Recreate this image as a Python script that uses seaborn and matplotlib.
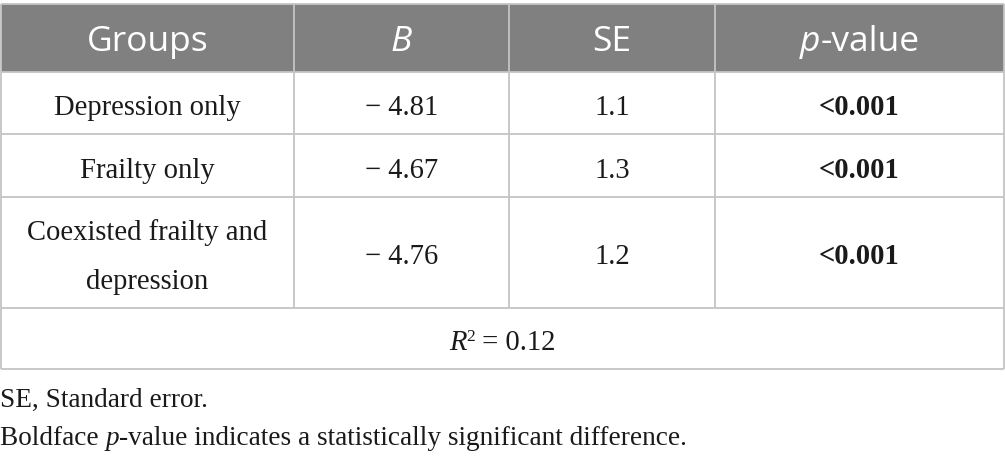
import matplotlib
matplotlib.use("Agg")
import matplotlib.pyplot as plt
import seaborn as sns
from matplotlib.patches import Rectangle

# ---------------- data ----------------
headers = ["Groups", "B", "SE", "p-value"]
groups = ["Depression only", "Frailty only", "Coexisted frailty and\ndepression"]
b_values = [-4.81, -4.67, -4.76]
se_values = [1.1, 1.3, 1.2]
p_values = ["<0.001", "<0.001", "<0.001"]
r_squared = 0.12
footnotes = ["SE, Standard error.",
             "Boldface p-value indicates a statistically significant difference."]

# ---------------- style ----------------
sns.set_theme(style="white")
plt.rcParams["font.family"] = ["Liberation Serif", "DejaVu Serif"]

W, H = 1005, 459
fig = plt.figure(figsize=(W / 100, H / 100), dpi=100)
ax = fig.add_axes([0, 0, 1, 1])
ax.set_xlim(0, W)
ax.set_ylim(H, 0)
ax.axis("off")

HEAD_BG = "#808080"
GRID = "#c4c4c4"
TXT = "#1a1a1a"
SANS = "Open Sans"
SERIF = "Liberation Serif"
HEAD_FS = 25.5
BODY_FS = 20.6
FOOT_FS = 19.6

col_edges = [0.8, 294, 509, 715, 1004]
row_edges = [4, 72, 134, 197, 308, 369]

renderer = fig.canvas.get_renderer()


def draw_runs(x, y, runs, ha="center"):
    objs = []
    widths = []
    for txt, kw in runs:
        kw = dict(kw)
        dy = kw.pop("dy", 0)
        t = ax.text(0, y + dy, txt, va="baseline", ha="left", **kw)
        bb = t.get_window_extent(renderer)
        objs.append(t)
        widths.append(bb.width)
    total = sum(widths)
    start = x - total / 2 if ha == "center" else x
    for t, w in zip(objs, widths):
        t.set_x(start)
        start += w


# header band
ax.add_patch(Rectangle((col_edges[0], row_edges[0]), col_edges[-1] - col_edges[0],
                       row_edges[1] - row_edges[0], facecolor=HEAD_BG, edgecolor="none", zorder=0))

# grid lines
for yv in row_edges:
    ax.plot([col_edges[0], col_edges[-1]], [yv, yv], color=GRID, lw=1.3, zorder=3,
            solid_capstyle="butt")
for i, xv in enumerate(col_edges):
    y1 = row_edges[-1] if i in (0, len(col_edges) - 1) else row_edges[-2]
    ax.plot([xv, xv], [row_edges[0], y1], color=GRID, lw=1.3, zorder=3,
            solid_capstyle="butt")

centers = [(col_edges[i] + col_edges[i + 1]) / 2 for i in range(4)]

# header texts
hb = 51
hkw = dict(family=SANS, fontsize=HEAD_FS, color="white")
draw_runs(centers[0], hb, [(headers[0], hkw)])
draw_runs(centers[1], hb, [(headers[1], dict(hkw, style="italic"))])
draw_runs(centers[2], hb, [(headers[2], hkw)])
draw_runs(centers[3], hb, [(headers[3][0], dict(hkw, style="italic")), (headers[3][1:], hkw)])

# body rows
bkw = dict(family=SERIF, fontsize=BODY_FS, color=TXT)
for r in range(len(groups)):
    top, bot = row_edges[r + 1], row_edges[r + 2]
    base = (top + bot) / 2 + 12
    lines = groups[r].split("\n")
    if len(lines) == 1:
        draw_runs(centers[0], base, [(lines[0], bkw)])
    else:
        gap = 49
        for k, ln in enumerate(lines):
            draw_runs(centers[0], base - gap / 2 + k * gap, [(ln, bkw)])
    draw_runs(centers[1], base, [("\u2212 " + f"{abs(b_values[r]):.2f}", bkw)])
    draw_runs(centers[2], base, [(f"{se_values[r]:.1f}", bkw)])
    draw_runs(centers[3], base, [(p_values[r], dict(bkw, weight="bold"))])

# R squared row
rb = (row_edges[4] + row_edges[5]) / 2 + 12
draw_runs(W / 2, rb, [("R", dict(bkw, style="italic")),
                      ("2", dict(bkw, fontsize=12.5, dy=-9.5)),
                      (f" = {r_squared:.2f}", bkw)])

# footnotes
fkw = dict(family=SERIF, fontsize=FOOT_FS, color=TXT)
draw_runs(0, 407, [(footnotes[0], fkw)], ha="left")
fn = footnotes[1]
draw_runs(0, 445, [(fn[:9], fkw), ("p", dict(fkw, style="italic")), (fn[10:], fkw)], ha="left")

fig.savefig("out.png", dpi=100, facecolor="white")
